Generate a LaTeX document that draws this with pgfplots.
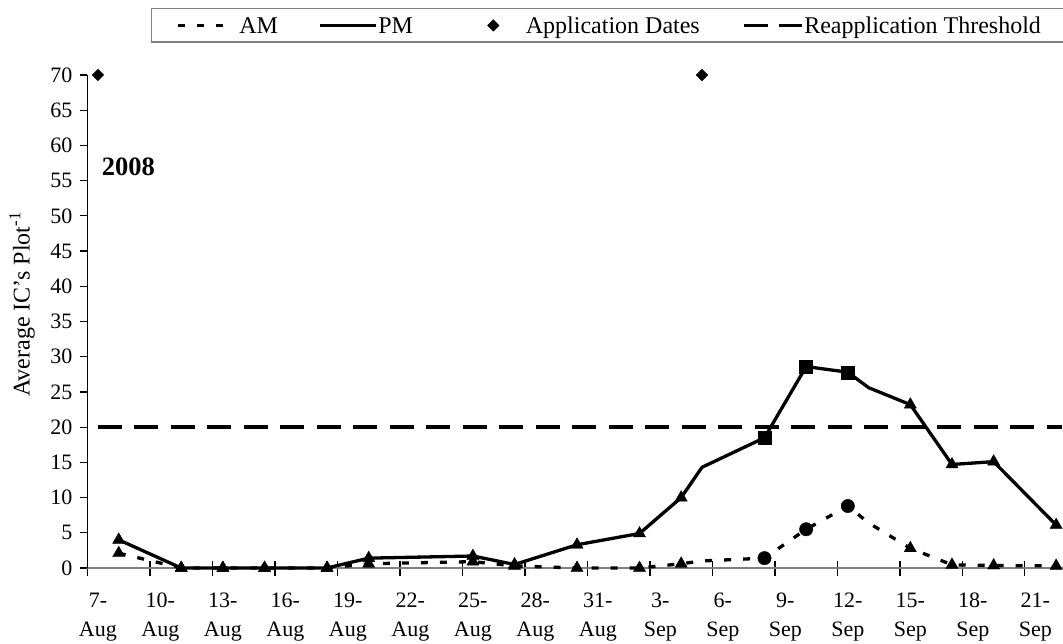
\documentclass[border=0pt]{standalone}
\usepackage{pgfplots}
\pgfplotsset{compat=1.18}
\usepackage{pgfplotstable}
\usepackage{fontspec}
\setmainfont{Liberation Serif}

% d = days after 7 Aug 2008
\pgfplotstableread{
d   am    pm    mam mpm
1   2.1   4.0   t   t
4   0     0     t   t
6   0     0     t   t
8   0     0     t   t
11  0     0     t   t
13  0.6   1.4   t   t
18  0.9   1.7   t   t
20  0.3   0.5   t   t
23  0     3.3   t   t
26  0     4.9   t   t
28  0.6   10.0  t   t
29  1.0   14.3  n   n
32  1.4   18.5  c   s
34  5.5   28.6  c   s
36  8.8   27.8  c   s
37  6.4   25.6  n   n
39  2.8   23.2  t   t
41  0.45  14.7  t   t
43  0.35  15.1  t   t
46  0.3   6.1   t   t
}\data

\pgfplotstableread{
d   y
0   70
29  70
}\appl

\pgfplotstableread{
d     y
0     20
46.3  20
}\thresh

\begin{document}
\begin{tikzpicture}
\begin{axis}[
  at={(87.5pt,75pt)}, anchor=south west,
  scale only axis, width=975.5pt, height=493pt,
  xmin=-0.5, xmax=46.33, ymin=0, ymax=70,
  clip=false,
  axis x line*=bottom, axis y line*=left,
  x axis line style={draw=gray, line width=1.8pt, -},
  y axis line style={draw=black, line width=1.3pt, -},
  tick align=outside, major tick length=7.5pt, minor tick length=15pt,
  ytick={0,5,...,70},
  xtick={0,3,...,45},
  xticklabels={{7-\\Aug},{10-\\Aug},{13-\\Aug},{16-\\Aug},{19-\\Aug},{22-\\Aug},{25-\\Aug},{28-\\Aug},{31-\\Aug},{3-\\Sep},{6-\\Sep},{9-\\Sep},{12-\\Sep},{15-\\Sep},{18-\\Sep},{21-\\Sep}},
  minor xtick={-0.5,2.5,...,44.5},
  every major x tick/.append style={draw=none},
  every minor x tick/.append style={yshift=7.5pt, black, line width=1.2pt},
  every major y tick/.append style={black, line width=1.2pt},
  tick label style={font=\fontsize{22}{26}\selectfont},
  y tick label style={xshift=-4pt},
  x tick label style={align=center, font=\fontsize{22}{29}\selectfont, yshift=-14pt},
  /pgf/number format/assume math mode=true,
  ylabel={Average IC's Plot\textsuperscript{-1}},
  ylabel style={font=\fontsize{24}{28}\selectfont, at={(axis description cs:-0.0671,0.535)}, anchor=center},
  legend columns=4,
  legend cell align=left,
  legend style={at={(0.0651,1.1359)}, anchor=north west, draw=gray, line width=1.5pt, fill=white,
    inner xsep=25pt, inner ysep=3.1pt, font=\fontsize{24}{28}\selectfont,
    nodes={inner sep=0pt, text height=22pt, text depth=5.2pt}},
]
\addplot[black, line width=3.3pt, dash pattern=on 7pt off 12pt, line join=round,
  legend image code/.code={\path[draw=none, fill=none] (0pt,-1pt) rectangle (61pt,1pt);
    \draw[black, line width=3.3pt, dash pattern=on 7pt off 12pt] (0pt,0pt) -- (45pt,0pt);}]
  table[x=d, y=am] {\data};
\addlegendentry{AM}
\addplot[black, line width=3.3pt, line join=round,
  legend image code/.code={\path[draw=none, fill=none] (-42.3pt,-1pt) rectangle (58pt,1pt);
    \draw[black, line width=3.3pt] (0pt,0pt) -- (56pt,0pt);}]
  table[x=d, y=pm] {\data};
\addlegendentry{PM}
\addplot[only marks, black, mark=square*, mark size=4.1pt, mark options={rotate=45, line width=0.4pt},
  legend image code/.code={\path[draw=none, fill=none] (-80.3pt,-1pt) rectangle (32.5pt,1pt);
    \draw[black, mark=square*, mark size=4.1pt, mark options={rotate=45, line width=0.4pt}] plot coordinates {(0pt,0pt)};}]
  table[x=d, y=y] {\appl};
\addlegendentry{Application Dates}
\addplot[black, line width=4.5pt, dash pattern=on 24pt off 12.5pt,
  legend image code/.code={\path[draw=none, fill=none] (-44.5pt,-1pt) rectangle (60pt,1pt);
    \draw[black, line width=3.3pt, dash pattern=on 24pt off 11pt] (0pt,0pt) -- (58pt,0pt);}]
  table[x=d, y=y] {\thresh};
\addlegendentry{Reapplication Threshold\hspace{20pt}}
% markers
\addplot[forget plot, scatter, only marks, scatter src=explicit symbolic,
  scatter/classes={t={mark=triangle*, mark size=7pt, black}, c={mark=*, mark size=6.7pt, black}, n={mark=none}}]
  table[x=d, y=am, meta=mam] {\data};
\addplot[forget plot, scatter, only marks, scatter src=explicit symbolic,
  scatter/classes={t={mark=triangle*, mark size=7pt, black}, s={mark=square*, mark size=6.5pt, black}, n={mark=none}}]
  table[x=d, y=pm, meta=mpm] {\data};
\node[anchor=base west, inner sep=0pt, font=\bfseries\fontsize{26.5}{30}\selectfont] at (rel axis cs:0.0146,0.797) {2008};
\end{axis}
\pgfresetboundingbox
\path[use as bounding box] (0pt,0pt) rectangle (1063pt,643pt);
\end{tikzpicture}
\end{document}
